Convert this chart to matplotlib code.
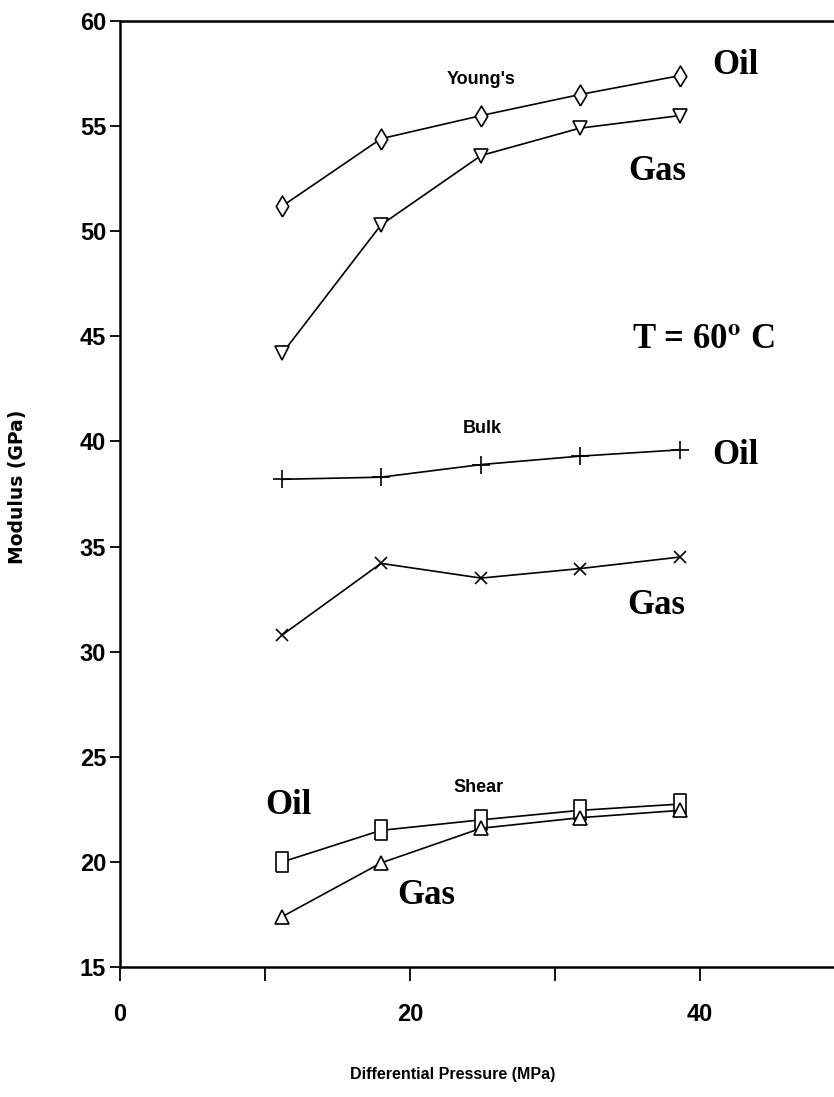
import matplotlib
matplotlib.use("Agg")
import matplotlib.pyplot as plt

plt.rcParams["mathtext.fontset"] = "stix"

# differential pressure (MPa)
pressure = [11.2, 18.0, 24.9, 31.7, 38.6]

youngs_oil = [51.2, 54.4, 55.5, 56.5, 57.4]
youngs_gas = [44.2, 50.3, 53.6, 54.9, 55.5]
bulk_oil = [38.2, 38.3, 38.9, 39.3, 39.6]
bulk_gas = [30.8, 34.2, 33.5, 33.95, 34.5]
shear_oil = [20.0, 21.5, 22.0, 22.45, 22.75]
shear_gas = [17.4, 19.95, 21.6, 22.1, 22.45]

xticks = [0, 10, 20, 30, 40]
xticklabels = ["0", "", "20", "", "40"]
yticks = [15, 20, 25, 30, 35, 40, 45, 50, 55, 60]

narrow = ["Liberation Sans Narrow", "Liberation Sans", "DejaVu Sans"]
serif = ["Liberation Serif", "DejaVu Serif"]

W, H = 834, 1097
fig = plt.figure(figsize=(W / 100, H / 100), dpi=100)
ax = fig.add_axes([120 / W, 1 - 967 / H, (W - 120) / W, (967 - 21) / H])

# tall thin diamond and tall rectangle as drawn in the scan
diamond = [(0, -0.5), (0.3, 0), (0, 0.5), (-0.3, 0), (0, -0.5)]
rect = [(-0.3, -0.5), (0.3, -0.5), (0.3, 0.5), (-0.3, 0.5), (-0.3, -0.5)]

kw = dict(color="black", lw=1.2, mfc="white", mec="black", mew=1.2)
ax.plot(pressure, youngs_oil, marker=diamond, ms=15, **kw)
ax.plot(pressure, youngs_gas, marker="v", ms=10, **kw)
ax.plot(pressure, bulk_oil, marker="+", ms=13, **kw)
ax.plot(pressure, bulk_gas, marker="x", ms=9, **kw)
ax.plot(pressure, shear_oil, marker=rect, ms=15, **kw)
ax.plot(pressure, shear_gas, marker="^", ms=10, **kw)

ax.set_xlim(0, (W - 120) / 14.5)
ax.set_ylim(15, 60)
ax.set_xticks(xticks)
ax.set_xticklabels(xticklabels)
ax.set_yticks(yticks)
ax.spines["right"].set_visible(False)
for s in ["left", "top", "bottom"]:
    ax.spines[s].set_linewidth(1.8)
ax.tick_params(axis="x", direction="out", length=10, width=1.3, pad=16)
ax.tick_params(axis="y", direction="out", length=7, width=1.3, pad=3)
for lab in ax.get_xticklabels() + ax.get_yticklabels():
    lab.set_family(narrow)
    lab.set_fontweight("bold")
    lab.set_fontsize(17)

def px(x, y):
    return x / W, 1 - y / H

fig.text(*px(453, 1074), "Differential Pressure (MPa)", ha="center", va="center",
         family=narrow, fontweight="bold", fontsize=11.5)
fig.text(*px(18, 487), "Modulus (GPa)", ha="center", va="center", rotation=90,
         family=["DejaVu Sans"], fontweight="bold", fontsize=13.5)

# curve names
small = dict(ha="center", va="center", family=narrow, fontweight="bold", fontsize=13)
fig.text(*px(481, 80), "Young's", **small)
fig.text(*px(482, 429), "Bulk", **small)
fig.text(*px(479, 787), "Shear", **small)

# fluid labels
big = dict(family=serif, fontweight="bold", fontsize=25, va="center", ha="left")
fig.text(*px(712, 66), "Oil", **big)
fig.text(*px(628, 172), "Gas", **big)
fig.text(*px(632, 340), r"T = 60$^{\mathbf{o}}$ C", **big)
fig.text(*px(712, 456), "Oil", **big)
fig.text(*px(627, 605), "Gas", **big)
fig.text(*px(265, 806), "Oil", **big)
fig.text(*px(397, 895), "Gas", **big)

fig.savefig("out.png", dpi=100)
